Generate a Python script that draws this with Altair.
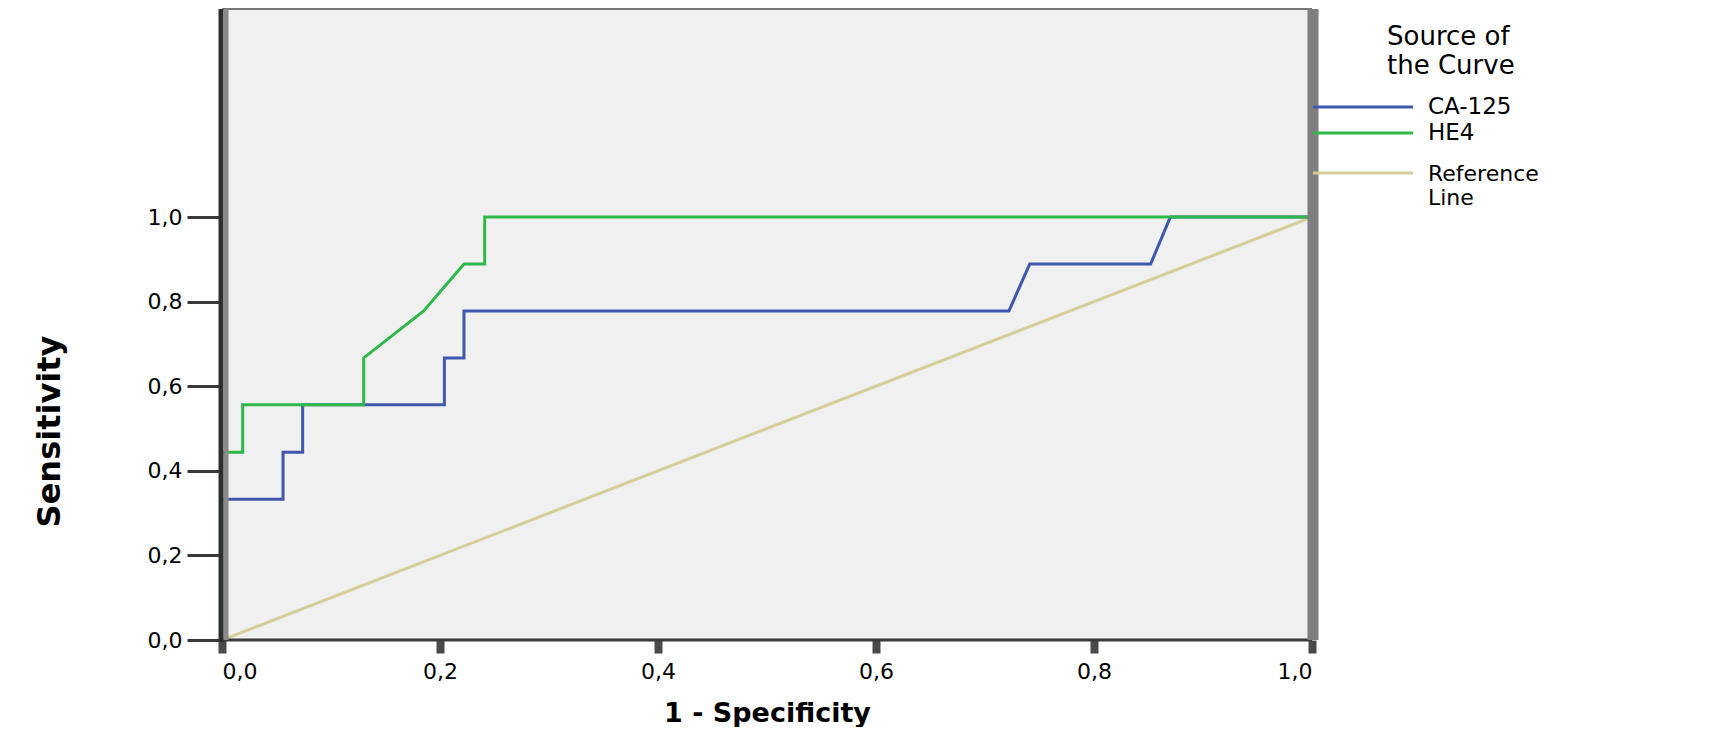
import altair as alt
import pandas as pd

# ---- data ----
series_names = ["CA-125", "HE4", "Reference Line"]
series_colors = ["#3f58ae", "#2fb84a", "#d6ce98"]

ca125_fpr = [0.0, 0.0, 0.056, 0.056, 0.074, 0.074, 0.204, 0.204, 0.222, 0.222, 0.722, 0.741, 0.852, 0.870, 1.0]
ca125_tpr = [0.0, 0.333, 0.333, 0.444, 0.444, 0.556, 0.556, 0.667, 0.667, 0.778, 0.778, 0.889, 0.889, 1.0, 1.0]

he4_fpr = [0.0, 0.0, 0.019, 0.019, 0.130, 0.130, 0.185, 0.222, 0.241, 0.241, 1.0]
he4_tpr = [0.0, 0.444, 0.444, 0.556, 0.556, 0.667, 0.778, 0.889, 0.889, 1.0, 1.0]

ref_fpr = [0.0, 1.0]
ref_tpr = [0.0, 1.0]

x_ticks = [0.0, 0.2, 0.4, 0.6, 0.8, 1.0]
y_ticks = [0.0, 0.2, 0.4, 0.6, 0.8, 1.0]

legend_title = ["Source of", "the Curve"]
x_title = "1 - Specificity"
y_title = "Sensitivity"

rows = []
for name, xs, ys in [("CA-125", ca125_fpr, ca125_tpr), ("HE4", he4_fpr, he4_tpr), ("Reference Line", ref_fpr, ref_tpr)]:
    for i, (a, b) in enumerate(zip(xs, ys)):
        rows.append({"series": name, "fpr": a, "tpr": b, "order": i})
df = pd.DataFrame(rows)

W, H = 1090, 631
FONT = "DejaVu Sans"
label_expr = "replace(format(datum.value, '.1f'), '.', ',')"

xscale = alt.Scale(domain=[0, 1], nice=False, zero=False)
yscale = alt.Scale(domain=[0, 1.492], nice=False, zero=False)

x_axis = alt.Axis(values=x_ticks, labelExpr=label_expr, tickSize=13, tickWidth=8, tickColor="#4a4a4a",
                  domain=False, grid=False, labelFont=FONT, labelFontSize=22, labelColor="black",
                  labelPadding=8, title=x_title, titleFont=FONT, titleFontSize=27, titleFontWeight="bold",
                  titleColor="black", titlePadding=18)
y_axis = alt.Axis(values=y_ticks, labelExpr=label_expr, tickSize=35, tickWidth=3, tickColor="#3a3a3a",
                  domain=False, grid=False, labelFont=FONT, labelFontSize=22, labelColor="black",
                  labelPadding=5, title=y_title, titleFont=FONT, titleFontSize=32, titleFontWeight="bold",
                  titleColor="black", titleAngle=270, titleX=-173, titleY=422, titleAlign="center",
                  titleBaseline="middle")

def curve(name, color, width):
    return alt.Chart(df).transform_filter(alt.datum.series == name).mark_line(
        strokeWidth=width, color=color, interpolate="linear", clip=True
    ).encode(
        x=alt.X("fpr:Q", scale=xscale, axis=x_axis),
        y=alt.Y("tpr:Q", scale=yscale, axis=y_axis),
        order="order:Q",
    )

one = pd.DataFrame({"k": [0]})

def rule(color, width, **enc):
    return alt.Chart(one).mark_rule(color=color, strokeWidth=width).encode(**{k: alt.value(v) for k, v in enc.items()})

def text(txt, size, x, y, weight="normal", lh=None):
    kw = dict(font=FONT, fontSize=size, fontWeight=weight, align="left", baseline="middle", color="black")
    if lh:
        kw["lineHeight"] = lh
    return alt.Chart(one).mark_text(**kw).encode(x=alt.value(x), y=alt.value(y), text=alt.value(txt))

layers = [
    curve("Reference Line", series_colors[2], 3),
    curve("CA-125", series_colors[0], 3),
    curve("HE4", series_colors[1], 3),
    # frame
    rule("#777777", 2, x=0, x2=W, y=0),
    rule("#3a3a3a", 3, x=0, x2=W, y=H),
    rule("#2f2f2f", 5, x=-1, y=0, y2=H + 2),
    rule("#8a8a8a", 5, x=4, y=0, y2=H),
    rule("#7f7f7f", 11, x=W + 1, y=0, y2=H),
    # legend
    text(legend_title, 26, 1165, 28, lh=29),
    rule(series_colors[0], 3, x=W + 1, x2=1191, y=98),
    rule(series_colors[1], 3, x=W + 1, x2=1191, y=124),
    rule(series_colors[2], 3, x=W + 1, x2=1191, y=164),
    text(series_names[0], 23, 1206, 98),
    text(series_names[1], 23, 1206, 124),
    text(["Reference", "Line"], 22, 1206, 165, lh=24),
]

chart = alt.layer(*layers).properties(
    width=W, height=H,
    autosize=alt.AutoSizeParams(type="none"),
    padding={"left": 214, "top": 1, "right": 393, "bottom": 87},
    background="white",
).configure_view(fill="#F0F0F0", stroke=None)

chart.save("out.html", embed_options={"renderer": "svg", "actions": False})
